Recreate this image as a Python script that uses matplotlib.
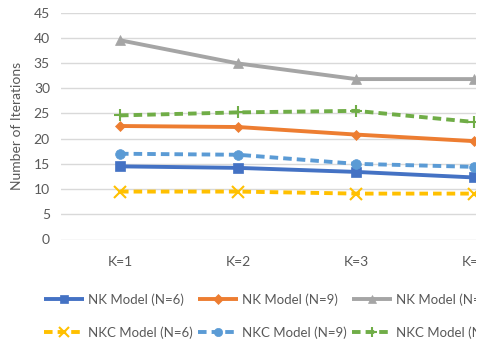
import matplotlib
matplotlib.use("Agg")
import matplotlib.pyplot as plt
from matplotlib.patches import Rectangle

plt.rcParams['font.family'] = ['Lato', 'DejaVu Sans']

categories = ["K=1", "K=2", "K=3", "K=4"]
nk_n6 = [14.5, 14.2, 13.4, 12.3]
nk_n9 = [22.5, 22.3, 20.8, 19.5]
nk_n12 = [39.5, 34.9, 31.8, 31.8]
nkc_n6 = [9.5, 9.5, 9.1, 9.1]
nkc_n9 = [17.0, 16.8, 15.0, 14.4]
nkc_n12 = [24.6, 25.2, 25.5, 23.3]
y_ticks = [0, 5, 10, 15, 20, 25, 30, 35, 40, 45]

W, H = 482, 345
fig = plt.figure(figsize=(W / 100, H / 100), dpi=100)

# plot area: category slots are 118 px wide, the last one runs past the right edge
left, right, bottom, top = 61, 533, H - 239.5, H - 12.5
ax = fig.add_axes([left / W, bottom / H, (right - left) / W, (top - bottom) / H])

x = list(range(len(categories)))
dash = (2.2, 1.3)
series = [
    (nk_n6, "NK Model (N=6)", "#4472C4", "s", None, 6.5),
    (nk_n9, "NK Model (N=9)", "#ED7D31", "D", None, 5.5),
    (nk_n12, "NK Model (N=12)", "#A5A5A5", "^", None, 7.5),
    (nkc_n6, "NKC Model (N=6)", "#FFC000", "x", dash, 8),
    (nkc_n9, "NKC Model (N=9)", "#5B9BD5", "o", dash, 7),
    (nkc_n12, "NKC Model (N=12)", "#70AD47", "+", dash, 9),
]
handles = []
for vals, label, color, mk, ds, ms in series:
    kw = dict(color=color, lw=2.8, marker=mk, markersize=ms, label=label,
              markeredgewidth=1.5 if mk in "x+" else 0.5, markeredgecolor=color,
              solid_capstyle='butt', dash_capstyle='butt', zorder=3)
    if ds:
        kw['dashes'] = ds
    handles.append(ax.plot(x, vals, **kw)[0])

ax.set_xlim(-0.5, len(categories) - 0.5)
ax.set_ylim(0, 45)
ax.set_yticks(y_ticks)
ax.set_xticks(x)
ax.set_xticklabels(categories)
ax.grid(axis='y', color='#D9D9D9', lw=1)
ax.set_axisbelow(True)
for s in ax.spines.values():
    s.set_visible(False)
ax.tick_params(length=0, colors='#595959', labelsize=10)
ax.tick_params(axis='x', pad=12)
ax.tick_params(axis='y', pad=8)
ax.set_ylabel("Number of Iterations", color='#595959', fontsize=10, labelpad=8)

# legend: one small legend per column, NK series on top row, NKC below
col_x = [44, 198, 352]
for i, cx in enumerate(col_x):
    pair = [handles[i], handles[i + 3]]
    leg = fig.legend(pair, [h.get_label() for h in pair], loc='upper left',
                     bbox_to_anchor=(cx / W, 1 - 293 / H), frameon=False,
                     fontsize=9.5, handlelength=3.0, handletextpad=0.3,
                     labelspacing=1.55, borderpad=0, borderaxespad=0,
                     markerscale=0.85)
    for t in leg.get_texts():
        t.set_color('#595959')

# right edge of the drawing is trimmed
fig.patches.append(Rectangle((476 / W, 0), 1, 1, transform=fig.transFigure,
                             facecolor='white', edgecolor='none', zorder=20))

fig.savefig("out.png", dpi=100)
